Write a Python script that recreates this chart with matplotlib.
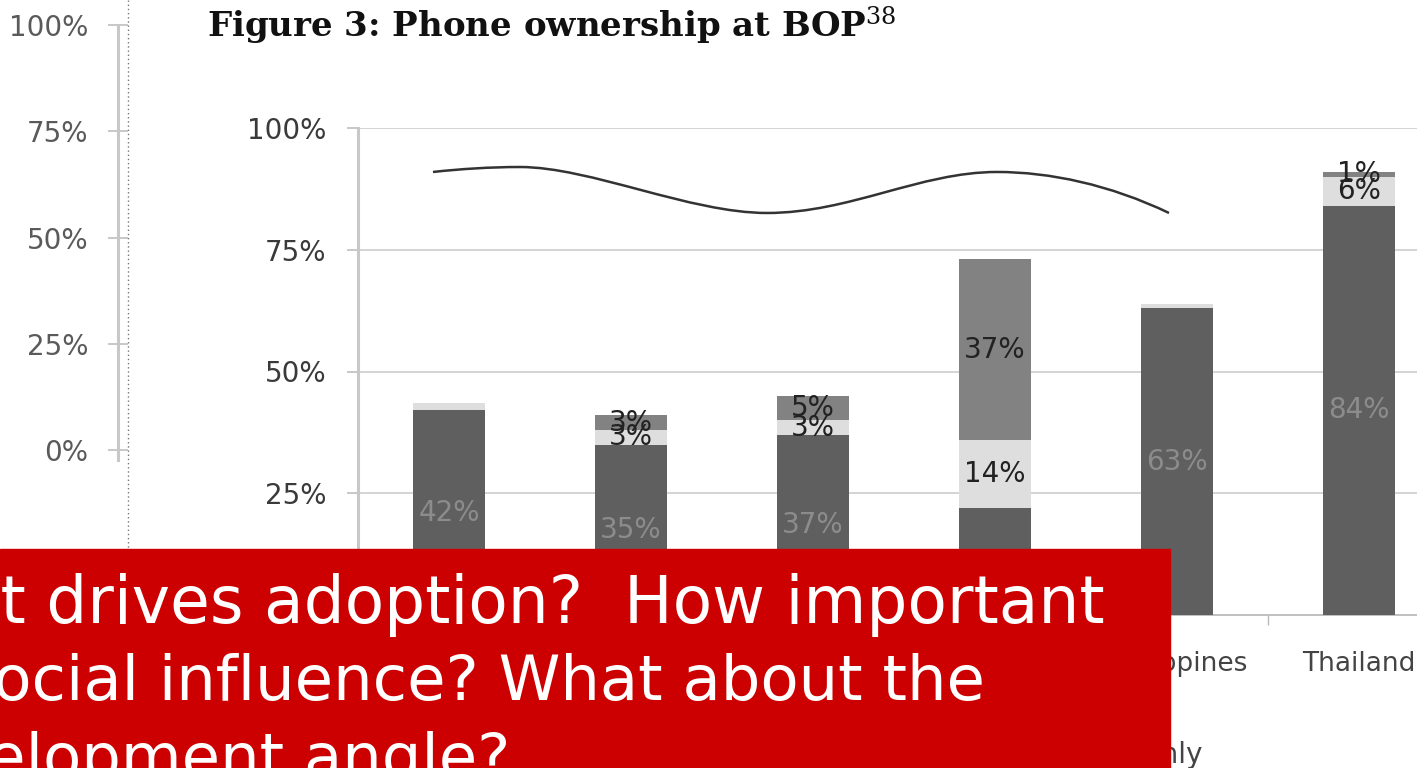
import numpy as np
import matplotlib
matplotlib.use("Agg")
import matplotlib.pyplot as plt
from matplotlib.patches import Rectangle, PathPatch
from matplotlib.path import Path
from matplotlib.lines import Line2D

plt.rcParams.update({"font.family": "DejaVu Sans",
                     "mathtext.fontset": "dejavuserif"})

# ── data ────────────────────────────────────────────────────────────────
countries   = ["Bangladesh", "Pakistan", "India", "Sri Lanka",
               "Philippines", "Thailand"]
mobile_only = [42, 35, 37, 22, 63, 84]
both        = [1.5, 3, 3, 14, 0.8, 6]
fixed_only  = [0, 3, 5, 37, 0, 1]
show_mobile = [True, True, True, False, True, True]   # Sri Lanka's sits under the callout
show_both   = [False, True, True, True, False, True]
show_fixed  = [False, True, True, True, False, True]
series_names = ["Mobile only", "Both", "Fixed only"]
yticks      = [0, 25, 50, 75, 100]

# hand-drawn wavy stroke over the bars (category units, percent)
curve_pts = [(-0.088, 90.97),
             (0.060, 91.58), (0.225, 91.99), (0.390, 91.99),
             (0.775, 91.99), (1.324, 82.55), (1.747, 82.55),
             (2.203, 82.55), (2.588, 90.97), (3.011, 90.97),
             (3.302, 90.97), (3.632, 88.34), (3.956, 82.55)]

C_DARK, C_LIGHT, C_MID = "#5f5f5f", "#dedede", "#828282"
GRID = "#d4d4d4"
W, H = 1417, 768

fig = plt.figure(figsize=(W / 100, H / 100), dpi=100)
fig.patch.set_facecolor("white")

# ── ghost axis on the far left ─────────────────────────────────────────
axl = fig.add_axes([118 / W, 1 - 460 / H, 10 / W, (460 - 25) / H])
axl.set_ylim(-2.35, 100)
axl.set_xticks([])
axl.set_yticks(yticks)
axl.set_yticklabels([f"{t}%" for t in yticks])
for s in ("top", "right", "bottom"):
    axl.spines[s].set_visible(False)
axl.spines["left"].set_color("#c8c8c8")
axl.spines["left"].set_linewidth(2.2)
axl.tick_params(axis="y", direction="inout", length=14.4, width=1.4,
                color="#c8c8c8", labelsize=20, labelcolor="#5a5a5a", pad=14)
axl.patch.set_visible(False)

# dotted guide next to it
fig.add_artist(Line2D([128 / W, 128 / W], [0, 1], transform=fig.transFigure,
                      color="#777777", lw=1, ls=(0, (1, 2)), zorder=1))

# ── title ──────────────────────────────────────────────────────────────
fig.text(207 / W, 1 - 26 / H, "Figure 3: Phone ownership at BOP$^{38}$",
         family="DejaVu Serif", weight="bold", fontsize=24.5, va="center",
         ha="left", color="#111111")

# ── main chart ─────────────────────────────────────────────────────────
ax = fig.add_axes([358 / W, 1 - 615 / H, 1 - 358 / W, (615 - 128) / H])
xs = np.arange(len(countries))
bw = 0.4
b1 = np.array(mobile_only, float)
b2 = b1 + np.array(both, float)

ax.bar(xs, mobile_only, width=bw, color=C_DARK, zorder=3,
       label=series_names[0])
ax.bar(xs, both, width=bw, bottom=b1, color=C_LIGHT, zorder=3,
       label=series_names[1])
ax.bar(xs, fixed_only, width=bw, bottom=b2, color=C_MID, zorder=3,
       label=series_names[2])

for x, v, s in zip(xs, mobile_only, show_mobile):
    if s:
        ax.text(x, v / 2, f"{v}%", ha="center", va="center", fontsize=20,
                color="#8c8c8c", zorder=5)
for x, v, b, s in zip(xs, both, b1, show_both):
    if s:
        ax.text(x, b + v / 2, f"{v:.0f}%", ha="center", va="center",
                fontsize=20, color="#222222", zorder=5)
for x, v, b, s in zip(xs, fixed_only, b2, show_fixed):
    if s:
        ax.text(x, b + v / 2, f"{v:.0f}%", ha="center", va="center",
                fontsize=20, color="#222222", zorder=5)

# wavy stroke
codes = [Path.MOVETO] + [Path.CURVE4] * (len(curve_pts) - 1)
ax.add_patch(PathPatch(Path(curve_pts, codes), fill=False, ec="#333333",
                       lw=1.8, zorder=6))

ax.set_xlim(-0.5, (W - 449) / 182)
ax.set_ylim(0, 100)
ax.set_yticks(yticks[1:])
ax.set_yticklabels([f"{t}%" for t in yticks[1:]])
ax.yaxis.grid(True, color=GRID, lw=1.4)
ax.set_axisbelow(True)
ax.set_xticks(xs[:-1] + 0.5)
ax.set_xticklabels([])
ax.set_xticks(xs, minor=True)
ax.set_xticklabels(countries, minor=True)
ax.tick_params(axis="x", which="major", length=7, width=1, color="#bbbbbb")
ax.tick_params(axis="x", which="minor", length=0, pad=26, labelsize=19,
               labelcolor="#444444")
ax.tick_params(axis="y", length=8, width=1.4, color="#c8c8c8", pad=15,
               labelsize=20, labelcolor="#3a3a3a")
for s in ("top", "right"):
    ax.spines[s].set_visible(False)
ax.spines["left"].set_color("#c8c8c8")
ax.spines["left"].set_linewidth(2.2)
ax.spines["bottom"].set_color("#c0c0c0")
ax.spines["bottom"].set_linewidth(1.4)

ax.legend(loc="center right", bbox_to_anchor=(1202 / W, 1 - 755 / H),
          bbox_transform=fig.transFigure, ncol=3, frameon=False,
          fontsize=20, labelcolor="#444444", borderpad=0, borderaxespad=0,
          handlelength=0.7, columnspacing=1.5)

# ── red callout box on top ─────────────────────────────────────────────
fig.add_artist(Rectangle((0, 0), 1170 / W, (H - 549) / H,
                         transform=fig.transFigure, color="#cc0000",
                         zorder=10))
lines = [("What drives adoption?  How important", 1105, 623, 46.5),
         ("is social influence? What about the", 985, 700, 45),
         ("development angle?", 510, 778, 45)]
for txt, xr, yb, fs in lines:
    fig.text(xr / W, 1 - yb / H, txt, ha="right", va="baseline",
             fontsize=fs, color="white", zorder=11)

fig.savefig("out.png", dpi=100)
